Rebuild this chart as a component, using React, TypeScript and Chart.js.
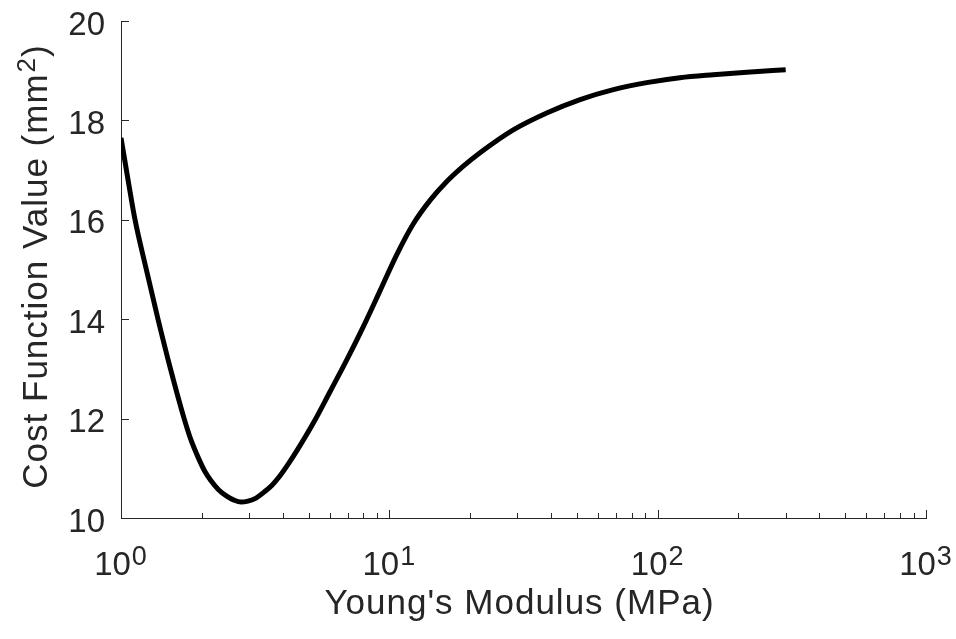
import React, { useEffect, useRef } from "react";
import { Chart, registerables } from "chart.js";

Chart.register(...registerables);

// Young's modulus (MPa), log axis
const MODULUS = [
  1, 1.062, 1.128, 1.239, 1.374, 1.536, 1.717, 1.823, 1.942, 2.057, 2.165,
  2.309, 2.477, 2.637, 2.8, 2.974, 3.185, 3.412, 3.654, 3.914, 4.193, 4.518,
  5.208, 6.01, 6.94, 8.0, 9.23, 10.66, 12.29, 14.18, 16.37, 18.87, 21.78,
  28.97, 38.6, 51.4, 68.4, 91.0, 121, 161, 215, 300,
];
// Cost function value (mm^2)
const COST = [
  17.65, 16.81, 16.0, 15.03, 14.0, 12.96, 12.01, 11.57, 11.21, 10.93, 10.75,
  10.57, 10.44, 10.36, 10.32, 10.34, 10.4, 10.52, 10.66, 10.85, 11.08, 11.35,
  11.91, 12.54, 13.18, 13.85, 14.57, 15.3, 15.92, 16.39, 16.77, 17.08, 17.35,
  17.81, 18.15, 18.42, 18.62, 18.76, 18.86, 18.92, 18.97, 19.02,
];

const X_MAJOR_TICKS = [1, 10, 100, 1000];
const X_TICK_EXPONENTS = ["0", "1", "2", "3"];
const X_MINOR_MULTIPLIERS = [2, 3, 4, 5, 6, 7, 8, 9];
const Y_TICKS = [10, 12, 14, 16, 18, 20];

const X_TITLE = "Young's Modulus (MPa)";
const Y_TITLE_MAIN = "Cost Function Value (mm";
const Y_TITLE_SUP = "2";
const Y_TITLE_END = ")";

const FONT = "'Liberation Sans', Arial, Helvetica, sans-serif";
const AXIS_COLOR = "#262626";

const axesPlugin = {
  id: "matlabAxes",
  afterDraw(chart: any) {
    const { ctx, chartArea } = chart;
    const x = chart.scales.x;
    const y = chart.scales.y;
    ctx.save();
    ctx.strokeStyle = AXIS_COLOR;
    ctx.fillStyle = AXIS_COLOR;
    ctx.lineWidth = 1;

    // Y ticks
    ctx.beginPath();
    Y_TICKS.forEach((v) => {
      const py = Math.round(y.getPixelForValue(v)) + 0.5;
      ctx.moveTo(chartArea.left, py);
      ctx.lineTo(chartArea.left + 8, py);
    });
    // X major ticks
    X_MAJOR_TICKS.forEach((v) => {
      const px = Math.round(x.getPixelForValue(v)) + 0.5;
      ctx.moveTo(px, chartArea.bottom);
      ctx.lineTo(px, chartArea.bottom - 8);
    });
    // X minor ticks
    X_MAJOR_TICKS.slice(0, -1).forEach((d) => {
      X_MINOR_MULTIPLIERS.forEach((m) => {
        const px = Math.round(x.getPixelForValue(d * m)) + 0.5;
        ctx.moveTo(px, chartArea.bottom);
        ctx.lineTo(px, chartArea.bottom - 5);
      });
    });
    ctx.stroke();

    // Y tick labels
    ctx.font = `33px ${FONT}`;
    ctx.textAlign = "right";
    ctx.textBaseline = "alphabetic";
    Y_TICKS.forEach((v) => {
      const py = y.getPixelForValue(v);
      ctx.fillText(String(v), chartArea.left - 16, py + 13.5);
    });

    // X tick labels 10^n
    ctx.textAlign = "left";
    X_MAJOR_TICKS.forEach((v, i) => {
      const px = x.getPixelForValue(v);
      ctx.font = `33px ${FONT}`;
      const wMain = ctx.measureText("10").width;
      ctx.font = `27px ${FONT}`;
      const wSup = ctx.measureText(X_TICK_EXPONENTS[i]).width;
      const start = px - 1 - (wMain + wSup) / 2;
      ctx.font = `33px ${FONT}`;
      ctx.fillText("10", start, chartArea.bottom + 57);
      ctx.font = `27px ${FONT}`;
      ctx.fillText(X_TICK_EXPONENTS[i], start + wMain + 1, chartArea.bottom + 46.5);
    });

    // X title
    ctx.font = `35px ${FONT}`;
    (ctx as any).letterSpacing = "1px";
    ctx.textAlign = "center";
    ctx.fillText(X_TITLE, (chartArea.left + chartArea.right) / 2 - 4, chartArea.bottom + 96);

    // Y title (rotated)
    ctx.textAlign = "left";
    ctx.font = `35px ${FONT}`;
    const wA = ctx.measureText(Y_TITLE_MAIN).width;
    const wC = ctx.measureText(Y_TITLE_END).width;
    ctx.font = `26px ${FONT}`;
    const wB = ctx.measureText(Y_TITLE_SUP).width;
    const total = wA + wB + wC + 1;
    const cy = (chartArea.top + chartArea.bottom) / 2 - 3;
    ctx.translate(47, cy);
    ctx.rotate(-Math.PI / 2);
    const sx = -total / 2;
    ctx.font = `35px ${FONT}`;
    ctx.fillText(Y_TITLE_MAIN, sx, 0);
    ctx.font = `26px ${FONT}`;
    ctx.fillText(Y_TITLE_SUP, sx + wA + 1, -12);
    ctx.font = `35px ${FONT}`;
    ctx.fillText(Y_TITLE_END, sx + wA + wB + 1, 0);
    ctx.restore();
  },
};

export default function App() {
  const canvasRef = useRef<HTMLCanvasElement | null>(null);

  useEffect(() => {
    document.body.style.margin = "0";
    const canvas = canvasRef.current;
    if (!canvas) return;
    const chart = new Chart(canvas, {
      type: "line",
      data: {
        datasets: [
          {
            data: MODULUS.map((m, i) => ({ x: m, y: COST[i] })),
            borderColor: "#000000",
            borderWidth: 5,
            pointRadius: 0,
            fill: false,
            cubicInterpolationMode: "monotone",
            borderCapStyle: "butt",
            borderJoinStyle: "round",
          },
        ],
      },
      options: {
        animation: false,
        responsive: false,
        maintainAspectRatio: false,
        devicePixelRatio: 1,
        layout: { padding: { top: 21, right: 30, left: 0, bottom: 0 } },
        plugins: {
          legend: { display: false },
          tooltip: { enabled: false },
          title: { display: false },
        },
        scales: {
          x: {
            type: "logarithmic",
            min: 1,
            max: 1000,
            ticks: { display: false },
            grid: { display: false, drawTicks: false },
            border: { display: true, color: AXIS_COLOR, width: 1 },
            afterFit: (s: any) => {
              s.height = 121;
            },
          },
          y: {
            type: "linear",
            min: 10,
            max: 20,
            ticks: { display: false },
            grid: { display: false, drawTicks: false },
            border: { display: true, color: AXIS_COLOR, width: 1 },
            afterFit: (s: any) => {
              s.width = 121;
            },
          },
        },
      },
      plugins: [axesPlugin],
    });
    return () => chart.destroy();
  }, []);

  return (
    <div style={{ width: 956, height: 639, background: "#ffffff" }}>
      <canvas ref={canvasRef} width={956} height={639} style={{ display: "block" }} />
    </div>
  );
}
